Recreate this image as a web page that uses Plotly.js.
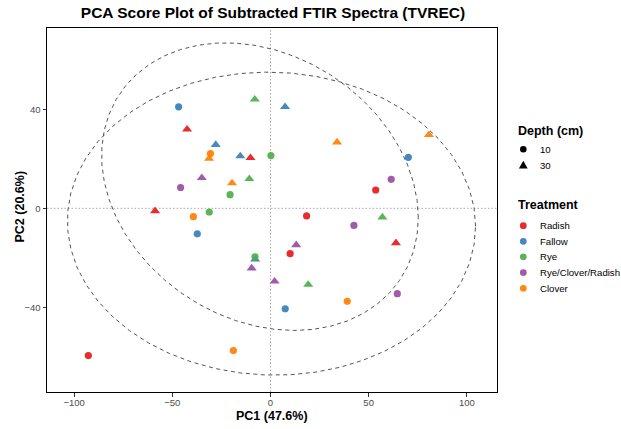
<!DOCTYPE html>
<html><head><meta charset="utf-8">
<script src="https://cdn.plot.ly/plotly-3.0.1.min.js"></script>
<style>html,body{margin:0;padding:0;background:#fff}</style>
</head><body><div id="chart" style="width:621px;height:429px"></div>
<script>
// ---- data ----
const treatments = ["Radish", "Fallow", "Rye", "Rye/Clover/Radish", "Clover"];
const treatmentColors = ["#E41A1C", "#377EB8", "#4DAF4A", "#984EA3", "#FF7F00"];
const depths = ["10", "30"];
const depthSymbols = ["circle", "triangle-up"];

const sampleTreatment = [
  "Radish","Radish","Radish","Radish","Radish","Radish","Radish","Radish",
  "Fallow","Fallow","Fallow","Fallow","Fallow","Fallow","Fallow","Fallow",
  "Rye","Rye","Rye","Rye","Rye","Rye","Rye","Rye",
  "Rye/Clover/Radish","Rye/Clover/Radish","Rye/Clover/Radish","Rye/Clover/Radish",
  "Rye/Clover/Radish","Rye/Clover/Radish","Rye/Clover/Radish","Rye/Clover/Radish",
  "Clover","Clover","Clover","Clover","Clover","Clover","Clover","Clover"
];
const sampleDepth = [
  "10","10","10","10","30","30","30","30",
  "10","10","10","10","30","30","30","30",
  "10","10","10","10","30","30","30","30",
  "10","10","10","10","30","30","30","30",
  "10","10","10","10","30","30","30","30"
];
const pc1 = [
  53.6, 18.4, 10.0, -92.8,   -42.5, -10.2, -58.8, 63.9,
  -46.8, 70.2, -37.3, 7.5,   7.4, -27.9, -15.4, -7.8,
  0.2, -20.6, -31.2, -7.9,   -8.0, -10.8, 57.0, 19.2,
  -45.8, 61.5, 42.5, 64.6,   -35.0, 13.1, -9.6, 2.1,
  -30.6, -39.3, -18.9, 39.1, -31.3, -19.6, 33.9, 80.7
];
const pc2 = [
  7.4, -3.1, -18.3, -59.5,   31.9, 20.4, -1.1, -14.0,
  41.0, 20.6, -10.3, -40.6,  41.0, 25.7, 21.1, -20.6,
  21.3, 5.5, -1.5, -19.6,    44.0, 11.9, -3.6, -30.8,
  8.4, 11.7, -6.9, -34.5,    12.3, -14.8, -24.2, -29.5,
  22.1, -3.4, -57.5, -37.6,  20.1, 10.2, 26.7, 29.7
];
const refLines = [0];
const xTicks = [-100, -50, 0, 50, 100];
const yTicks = [-40, 0, 40];

// ---- ellipse helpers (ggplot2 stat_ellipse, type "t", level 0.95) ----
function covTrob(pts, nu, maxit, tol) {
  const n = pts.length, p = 2;
  let w = pts.map(() => 1);
  let loc = [pts.reduce((s, q) => s + q[0], 0) / n, pts.reduce((s, q) => s + q[1], 0) / n];
  let X = [];
  for (let it = 0; it < maxit; it++) {
    const w0 = w.slice();
    X = pts.map(q => [q[0] - loc[0], q[1] - loc[1]]);
    const sw = w.reduce((a, b) => a + b, 0);
    let a = 0, b = 0, c = 0;
    X.forEach((v, i) => { a += w[i] * v[0] * v[0] / sw; b += w[i] * v[0] * v[1] / sw; c += w[i] * v[1] * v[1] / sw; });
    const det = a * c - b * b;
    const Q = X.map(v => (c * v[0] * v[0] - 2 * b * v[0] * v[1] + a * v[1] * v[1]) / det);
    w = Q.map(q => (nu + p) / (nu + q));
    const sw2 = w.reduce((s, v) => s + v, 0);
    loc = [pts.reduce((s, q, i) => s + w[i] * q[0], 0) / sw2, pts.reduce((s, q, i) => s + w[i] * q[1], 0) / sw2];
    if (w.every((v, i) => Math.abs(v - w0[i]) < tol)) break;
  }
  let a = 0, b = 0, c = 0;
  X.forEach((v, i) => { a += w[i] * v[0] * v[0]; b += w[i] * v[0] * v[1]; c += w[i] * v[1] * v[1]; });
  return { center: loc, cov: [a / n, b / n, c / n] };
}
function ellipsePath(pts, level, segments) {
  const n = pts.length;
  const d2 = n - 1;
  const fq = (d2 / 2) * (Math.pow(1 - level, -2 / d2) - 1);
  const radius = Math.sqrt(2 * fq);
  const r = covTrob(pts, 5, 25, 0.01);
  const [a, b, c] = r.cov;
  const r11 = Math.sqrt(a), r12 = b / r11, r22 = Math.sqrt(c - r12 * r12);
  const ex = [], ey = [];
  for (let k = 0; k <= segments; k++) {
    const t = k * 2 * Math.PI / segments;
    const u = Math.cos(t), v = Math.sin(t);
    ex.push(r.center[0] + radius * (u * r11));
    ey.push(r.center[1] + radius * (u * r12 + v * r22));
  }
  return { ex, ey };
}

const FONT = "Liberation Sans, Arial, Helvetica, sans-serif";
const traces = [];

// ellipses by depth
depths.forEach(d => {
  const pts = [];
  pc1.forEach((x, i) => { if (sampleDepth[i] === d) pts.push([x, pc2[i]]); });
  const e = ellipsePath(pts, 0.95, 51);
  traces.push({
    type: "scatter", mode: "lines", x: e.ex, y: e.ey, showlegend: false, hoverinfo: "skip",
    line: { color: "#555555", width: 1, dash: "4px,3.5px" }
  });
});

// points
treatments.forEach((t, ti) => {
  depths.forEach((d, di) => {
    const xs = [], ys = [];
    pc1.forEach((x, i) => { if (sampleTreatment[i] === t && sampleDepth[i] === d) { xs.push(x); ys.push(pc2[i]); } });
    traces.push({
      type: "scatter", mode: "markers", x: xs, y: ys, name: t + " " + d, showlegend: false,
      marker: { color: treatmentColors[ti], symbol: depthSymbols[di], size: di === 0 ? 7.2 : 8.8, opacity: 0.92, line: { width: 0 } }
    });
  });
});

// ---- layout geometry ----
const W = 621, H = 429;
const M = { l: 47, r: 124, t: 28, b: 37 };
const PW = W - M.l - M.r, PH = H - M.t - M.b;
const px2x = px => (px - M.l) / PW;
const py2y = py => (H - M.b - py) / PH;

const shapes = [];
refLines.forEach(v => {
  shapes.push({ type: "line", xref: "x", yref: "paper", x0: v, x1: v, y0: 0, y1: 1, layer: "below",
    line: { color: "#a8a8a8", width: 1, dash: "1.5px,2px" } });
  shapes.push({ type: "line", xref: "paper", yref: "y", x0: 0, x1: 1, y0: v, y1: v, layer: "below",
    line: { color: "#a8a8a8", width: 1, dash: "1.5px,2px" } });
});

const annotations = [];
// axis titles
annotations.push({ xref: "paper", yref: "paper", x: px2x(271.5), y: py2y(415.5), xanchor: "center", yanchor: "middle",
  text: "<b>PC1 (47.6%)</b>", showarrow: false, font: { family: FONT, size: 12.5, color: "#000" } });
annotations.push({ xref: "paper", yref: "paper", x: px2x(19.5), y: py2y(207), xanchor: "center", yanchor: "middle",
  textangle: -90, text: "<b>PC2 (20.6%)</b>", showarrow: false, font: { family: FONT, size: 12.5, color: "#000" } });

const legX = 516, keyX = 523.3, labX = 537.7;
annotations.push({ xref: "paper", yref: "paper", x: px2x(legX), y: py2y(130.5), xanchor: "left", yanchor: "middle",
  text: "<b>Depth (cm)</b>", showarrow: false, font: { family: FONT, size: 12.5, color: "#000" } });
const depthY = [149.3, 165];
depths.forEach((d, di) => {
  annotations.push({ xref: "paper", yref: "paper", x: px2x(labX), y: py2y(depthY[di]), xanchor: "left", yanchor: "middle",
    text: d, showarrow: false, font: { family: FONT, size: 9.6, color: "#000" } });
  if (di === 0) {
    shapes.push({ type: "circle", xref: "paper", yref: "paper", xsizemode: "pixel", ysizemode: "pixel",
      xanchor: px2x(keyX), yanchor: py2y(depthY[di]), x0: -3.3, x1: 3.3, y0: -3.3, y1: 3.3,
      fillcolor: "#000", line: { width: 0 } });
  } else {
    shapes.push({ type: "path", xref: "paper", yref: "paper", xsizemode: "pixel", ysizemode: "pixel",
      xanchor: px2x(keyX), yanchor: py2y(depthY[di]), path: "M-4.4,-3.4 L4.4,-3.4 L0,4.2 Z",
      fillcolor: "#000", line: { width: 0 } });
  }
});
annotations.push({ xref: "paper", yref: "paper", x: px2x(legX), y: py2y(205), xanchor: "left", yanchor: "middle",
  text: "<b>Treatment</b>", showarrow: false, font: { family: FONT, size: 12.5, color: "#000" } });
const treatY = [225.7, 241.3, 256.8, 272.6, 288.3];
treatments.forEach((t, ti) => {
  annotations.push({ xref: "paper", yref: "paper", x: px2x(labX), y: py2y(treatY[ti]), xanchor: "left", yanchor: "middle",
    text: t, showarrow: false, font: { family: FONT, size: 9.6, color: "#000" } });
  shapes.push({ type: "circle", xref: "paper", yref: "paper", xsizemode: "pixel", ysizemode: "pixel",
    xanchor: px2x(keyX), yanchor: py2y(treatY[ti]), x0: -3.4, x1: 3.4, y0: -3.4, y1: 3.4,
    fillcolor: treatmentColors[ti], opacity: 0.92, line: { width: 0 } });
});

const axisCommon = {
  showline: true, mirror: true, linecolor: "#000", linewidth: 1,
  ticks: "outside", ticklen: 3.5, tickwidth: 1, tickcolor: "#333",
  tickfont: { family: FONT, size: 9.5, color: "#4d4d4d" },
  showgrid: false, zeroline: false, automargin: false
};

const layout = {
  width: W, height: H, margin: M, paper_bgcolor: "#fff", plot_bgcolor: "#fff",
  showlegend: false,
  font: { family: FONT },
  title: { text: "<b>PCA Score Plot of Subtracted FTIR Spectra (TVREC)</b>", xref: "container", yref: "container",
    x: 273 / W, xanchor: "center", y: 1 - 12.5 / H, yanchor: "middle", font: { family: FONT, size: 15.5, color: "#000" } },
  xaxis: Object.assign({}, axisCommon, {
    range: [(M.l - 270.5) / 1.963, (W - M.r - 270.5) / 1.963],
    ticklabelstandoff: -2,
    tickvals: xTicks, ticktext: xTicks.map(v => v < 0 ? "\u2212" + Math.abs(v) : String(v))
  }),
  yaxis: Object.assign({}, axisCommon, {
    range: [(208.3 - (H - M.b)) / 2.475, (208.3 - M.t) / 2.475],
    tickvals: yTicks, ticktext: yTicks.map(v => v < 0 ? "\u2212" + Math.abs(v) : String(v))
  }),
  shapes: shapes,
  annotations: annotations
};

Plotly.newPlot("chart", traces, layout, { displayModeBar: false, staticPlot: true });
</script>
</body></html>
